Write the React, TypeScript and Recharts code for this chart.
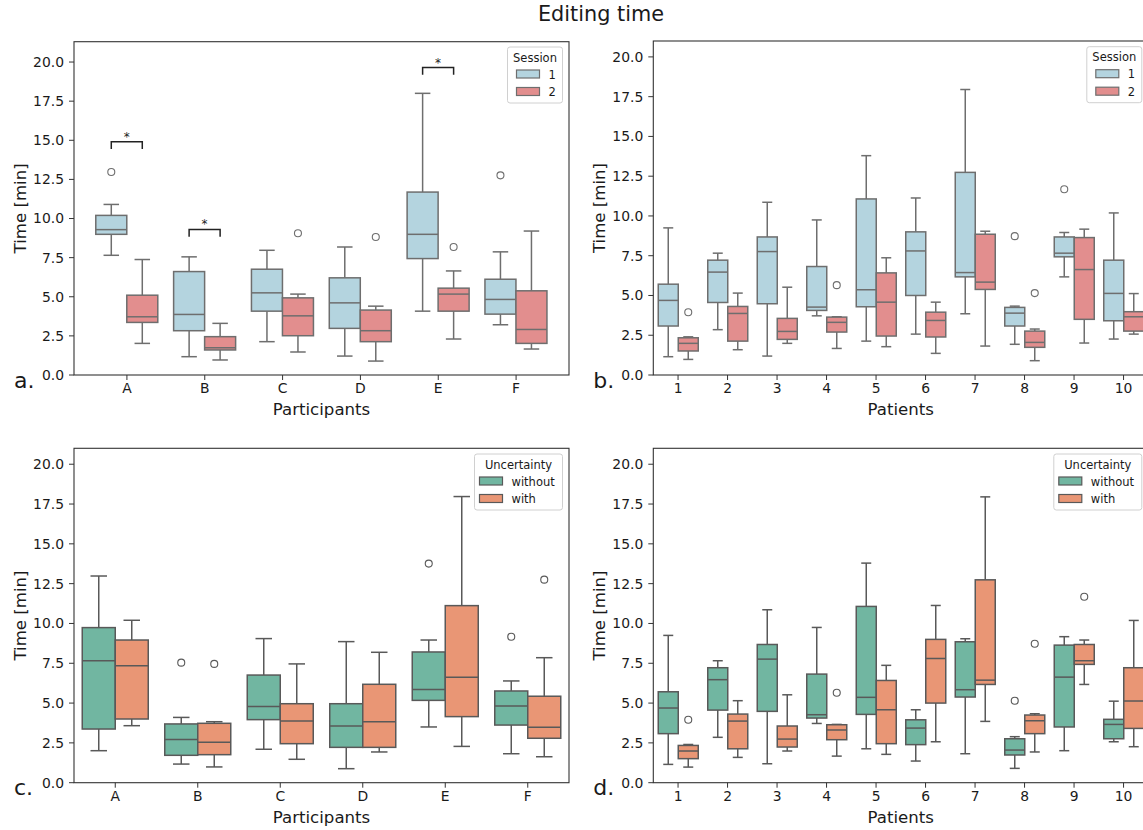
import { Bar, ComposedChart, XAxis, YAxis } from "recharts"

// each box: [lower whisker, q1, median, q3, upper whisker, outliers]
type Stat = [number, number, number, number, number, number[]]

const participants = ["A", "B", "C", "D", "E", "F"]
const patients = ["1", "2", "3", "4", "5", "6", "7", "8", "9", "10"]
const yTicks = [0, 2.5, 5, 7.5, 10, 12.5, 15, 17.5, 20]

const sessionLabels = ["1", "2"]
const uncertaintyLabels = ["without", "with"]

// a. participants, by session
const partSession1: Stat[] = [
  [7.65, 8.99, 9.29, 10.2, 10.9, [12.97]],
  [1.17, 2.83, 3.87, 6.61, 7.55, []],
  [2.13, 4.08, 5.25, 6.76, 7.97, []],
  [1.21, 2.98, 4.61, 6.21, 8.18, []],
  [4.08, 7.44, 8.99, 11.69, 18.0, []],
  [3.21, 3.89, 4.83, 6.12, 7.87, [12.76]],
]
const partSession2: Stat[] = [
  [2.02, 3.36, 3.72, 5.1, 7.38, []],
  [0.96, 1.6, 1.74, 2.45, 3.3, []],
  [1.47, 2.51, 3.78, 4.93, 5.17, [9.06]],
  [0.89, 2.13, 2.83, 4.15, 4.4, [8.82]],
  [2.3, 4.08, 5.17, 5.55, 6.65, [8.18]],
  [1.66, 2.02, 2.91, 5.38, 9.2, []],
]
// significance bracket heights (min), null = no bracket
const partSigLevels = [14.9, 9.3, null, null, 19.65, null]

// b. patients, by session
const patSession1: Stat[] = [
  [1.15, 3.08, 4.69, 5.71, 9.25, []],
  [2.85, 4.56, 6.47, 7.22, 7.66, []],
  [1.19, 4.48, 7.76, 8.68, 10.86, []],
  [3.72, 4.06, 4.27, 6.82, 9.75, []],
  [2.13, 4.29, 5.36, 11.07, 13.79, []],
  [2.57, 5.0, 7.8, 9.0, 11.13, []],
  [3.85, 6.17, 6.44, 12.74, 17.95, []],
  [1.93, 3.08, 3.89, 4.25, 4.33, [8.73]],
  [6.17, 7.43, 7.66, 8.68, 8.96, [11.68]],
  [2.26, 3.41, 5.13, 7.22, 10.19, []],
]
const patSession2: Stat[] = [
  [0.98, 1.51, 1.99, 2.34, 2.4, [3.95]],
  [1.59, 2.13, 3.87, 4.31, 5.15, []],
  [1.99, 2.24, 2.74, 3.56, 5.52, []],
  [1.67, 2.7, 3.31, 3.64, 3.66, [5.65]],
  [1.78, 2.45, 4.58, 6.42, 7.37, []],
  [1.36, 2.39, 3.43, 3.95, 4.58, []],
  [1.82, 5.38, 5.84, 8.85, 9.04, []],
  [0.9, 1.74, 2.05, 2.76, 2.89, [5.15]],
  [2.01, 3.5, 6.63, 8.64, 9.17, []],
  [2.57, 2.76, 3.66, 3.98, 5.12, []],
]
// which session showed the uncertainty, per patient
const patUncertainSession = [2, 2, 2, 2, 2, 1, 1, 1, 1, 1]

// c. participants, by uncertainty
const partWithout: Stat[] = [
  [2.01, 3.37, 7.66, 9.74, 12.98, []],
  [1.17, 1.72, 2.72, 3.69, 4.1, [7.54]],
  [2.1, 3.96, 4.78, 6.76, 9.05, []],
  [0.88, 2.22, 3.56, 4.96, 8.86, []],
  [3.5, 5.17, 5.86, 8.21, 8.96, [13.76]],
  [1.82, 3.62, 4.82, 5.76, 6.39, [9.17]],
]
const partWith: Stat[] = [
  [3.58, 4.0, 7.35, 8.96, 10.2, []],
  [0.99, 1.76, 2.54, 3.73, 3.83, [7.46]],
  [1.47, 2.45, 3.87, 4.96, 7.46, []],
  [1.93, 2.22, 3.83, 6.18, 8.19, []],
  [2.28, 4.15, 6.62, 11.12, 17.97, []],
  [1.63, 2.79, 3.48, 5.43, 7.85, [12.75]],
]

const sessionColors = ["#b4d4df", "#e28e8e"]
const uncertaintyColors = ["#71b6a1", "#e99675"]
const sessionLine = "#6e6e6e"
const uncertaintyLine = "#595959"
const FONT = "'DejaVu Sans', sans-serif"

function BoxShape(props: any) {
  const { x, y, width, height, stat, fill, line, sig } = props
  if (!stat) return null
  const [lo, q1, med, q3, hi, out] = stat as Stat
  const top = Math.min(y, y + height)
  const bot = Math.max(y, y + height)
  const px = (v: number) => bot - ((v - lo) / (hi - lo)) * (bot - top)
  const cx = x + width / 2
  const cap = width / 4
  const lw = 1.5
  return (
    <g>
      <line x1={cx} x2={cx} y1={px(q3)} y2={px(hi)} stroke={line} strokeWidth={lw} />
      <line x1={cx} x2={cx} y1={px(q1)} y2={px(lo)} stroke={line} strokeWidth={lw} />
      <line x1={cx - cap} x2={cx + cap} y1={px(hi)} y2={px(hi)} stroke={line} strokeWidth={lw} />
      <line x1={cx - cap} x2={cx + cap} y1={px(lo)} y2={px(lo)} stroke={line} strokeWidth={lw} />
      <rect x={x} y={px(q3)} width={width} height={px(q1) - px(q3)} fill={fill} stroke={line} strokeWidth={lw} />
      <line x1={x} x2={x + width} y1={px(med)} y2={px(med)} stroke={line} strokeWidth={lw} />
      {out.map((o, i) => (
        <circle key={i} cx={cx} cy={px(o)} r={3.5} fill="none" stroke={line} strokeWidth={1.1} />
      ))}
      {sig != null && (
        <g>
          <polyline
            points={`${cx},${px(sig - 0.46)} ${cx},${px(sig)} ${cx + width},${px(sig)} ${cx + width},${px(sig - 0.46)}`}
            fill="none"
            stroke="#222"
            strokeWidth={1.5}
          />
          <text x={cx + width / 2} y={px(sig) - 1} textAnchor="middle" fontSize={12} fill="#222">
            *
          </text>
        </g>
      )}
    </g>
  )
}

type PanelProps = {
  box: { left: number; top: number; w: number; h: number }
  plot: { l: number; r: number; t: number; b: number }
  yMax: number
  xPad: number
  names: string[]
  s1: Stat[]
  s2: Stat[]
  sig?: (number | null)[]
  colors: string[]
  line: string
}

function Panel({ box, plot, yMax, xPad, names, s1, s2, sig, colors, line }: PanelProps) {
  const data = names.map((name, i) => ({ name, s1: s1[i], s2: s2[i], level: sig ? sig[i] : null }))
  const margin = {
    left: plot.l - box.left - 60,
    right: box.left + box.w - plot.r,
    top: plot.t - box.top,
    bottom: box.top + box.h - plot.b - 30,
  }
  const tick = { fill: "#1a1a1a", fontSize: 13.9, fontFamily: FONT }
  return (
    <div style={{ position: "absolute", left: box.left, top: box.top }}>
      <ComposedChart width={box.w} height={box.h} data={data} margin={margin} barCategoryGap="10%" barGap={0}>
        <XAxis
          dataKey="name"
          type="category"
          height={30}
          interval={0}
          padding={{ left: xPad, right: xPad }}
          axisLine={false}
          tickLine={{ stroke: "#333" }}
          tickSize={5}
          tickMargin={3}
          tick={tick}
        />
        <YAxis
          type="number"
          width={60}
          domain={[0, yMax]}
          ticks={yTicks}
          interval={0}
          tickFormatter={(v: number) => v.toFixed(1)}
          axisLine={false}
          tickLine={{ stroke: "#333" }}
          tickSize={5}
          tickMargin={5}
          tick={tick}
        />
        <Bar
          dataKey={(r: any) => [r.s1[0], r.s1[4]]}
          isAnimationActive={false}
          shape={(p: any) => (
            <BoxShape {...p} stat={p.payload.s1} fill={colors[0]} line={line} sig={p.payload.level} />
          )}
        />
        <Bar
          dataKey={(r: any) => [r.s2[0], r.s2[4]]}
          isAnimationActive={false}
          shape={(p: any) => <BoxShape {...p} stat={p.payload.s2} fill={colors[1]} line={line} sig={null} />}
        />
      </ComposedChart>
    </div>
  )
}

function Legend({ right, top, width, title, labels, colors, line, patchOff }: any) {
  const left = right - width
  return (
    <g fontFamily={FONT}>
      <rect x={left} y={top} width={width} height={56} rx={2.5} fill="#fff" fillOpacity={0.8} stroke="#d0d0d0" />
      <text x={left + width / 2} y={top + 14.5} textAnchor="middle" fontSize={11.5} fill="#1a1a1a">
        {title}
      </text>
      {labels.map((lab: string, i: number) => (
        <g key={lab}>
          <rect x={left + patchOff} y={top + 23 + i * 17.5} width={23} height={8} fill={colors[i]} stroke={line} strokeWidth={1.2} />
          <text x={left + patchOff + 32} y={top + 31.5 + i * 17.5} fontSize={11.5} fill="#1a1a1a">
            {lab}
          </text>
        </g>
      ))}
    </g>
  )
}

export default function App() {
  const withUnc = patients.map((_, i) => (patUncertainSession[i] === 2 ? patSession2[i] : patSession1[i]))
  const withoutUnc = patients.map((_, i) => (patUncertainSession[i] === 2 ? patSession1[i] : patSession2[i]))

  const panels = [
    { letter: "a.", xlabel: "Participants", plot: { l: 74, r: 569, t: 41.7, b: 375 } },
    { letter: "b.", xlabel: "Patients", plot: { l: 653.3, r: 1148.3, t: 41, b: 375 } },
    { letter: "c.", xlabel: "Participants", plot: { l: 74, r: 569, t: 448.3, b: 782.7 } },
    { letter: "d.", xlabel: "Patients", plot: { l: 653.3, r: 1148.3, t: 448.3, b: 782.7 } },
  ]

  return (
    <div
      style={{
        position: "fixed",
        left: 0,
        top: 0,
        width: 1143,
        height: 830,
        overflow: "hidden",
        background: "#fff",
        fontFamily: FONT,
      }}
    >
      <Panel
        box={{ left: 0, top: 30, w: 580, h: 400 }}
        plot={panels[0].plot}
        yMax={21.3}
        xPad={14}
        names={participants}
        s1={partSession1}
        s2={partSession2}
        sig={partSigLevels}
        colors={sessionColors}
        line={sessionLine}
      />
      <Panel
        box={{ left: 580, top: 30, w: 580, h: 400 }}
        plot={panels[1].plot}
        yMax={21}
        xPad={0}
        names={patients}
        s1={patSession1}
        s2={patSession2}
        colors={sessionColors}
        line={sessionLine}
      />
      <Panel
        box={{ left: 0, top: 437, w: 580, h: 393 }}
        plot={panels[2].plot}
        yMax={21}
        xPad={0}
        names={participants}
        s1={partWithout}
        s2={partWith}
        colors={uncertaintyColors}
        line={uncertaintyLine}
      />
      <Panel
        box={{ left: 580, top: 437, w: 580, h: 393 }}
        plot={panels[3].plot}
        yMax={21}
        xPad={0}
        names={patients}
        s1={withoutUnc}
        s2={withUnc}
        colors={uncertaintyColors}
        line={uncertaintyLine}
      />
      <svg width={1143} height={830} style={{ position: "absolute", left: 0, top: 0, pointerEvents: "none" }}>
        <text x={601} y={21} textAnchor="middle" fontSize={20.8} fill="#1a1a1a" fontFamily={FONT}>
          Editing time
        </text>
        {panels.map((p) => {
          const cy = (p.plot.t + p.plot.b) / 2
          const yx = p.plot.l - 48
          return (
            <g key={p.letter} fontFamily={FONT} fill="#1a1a1a">
              <rect x={p.plot.l} y={p.plot.t} width={p.plot.r - p.plot.l} height={p.plot.b - p.plot.t} fill="none" stroke="#333" strokeWidth={1.1} />
              <text x={yx} y={cy} transform={`rotate(-90 ${yx} ${cy})`} textAnchor="middle" fontSize={16.6}>
                Time [min]
              </text>
              <text x={(p.plot.l + p.plot.r) / 2} y={p.plot.b + 40} textAnchor="middle" fontSize={16.6}>
                {p.xlabel}
              </text>
              <text x={p.plot.l - 60} y={p.plot.b + 12.5} fontSize={22}>
                {p.letter}
              </text>
            </g>
          )
        })}
        <Legend right={562.5} top={47} width={55} title="Session" labels={sessionLabels} colors={sessionColors} line={sessionLine} patchOff={9} />
        <Legend right={1141.8} top={46.7} width={55} title="Session" labels={sessionLabels} colors={sessionColors} line={sessionLine} patchOff={9} />
        <Legend right={562.5} top={454} width={88} title="Uncertainty" labels={uncertaintyLabels} colors={uncertaintyColors} line={uncertaintyLine} patchOff={5} />
        <Legend right={1141.8} top={454} width={88} title="Uncertainty" labels={uncertaintyLabels} colors={uncertaintyColors} line={uncertaintyLine} patchOff={5} />
      </svg>
    </div>
  )
}
